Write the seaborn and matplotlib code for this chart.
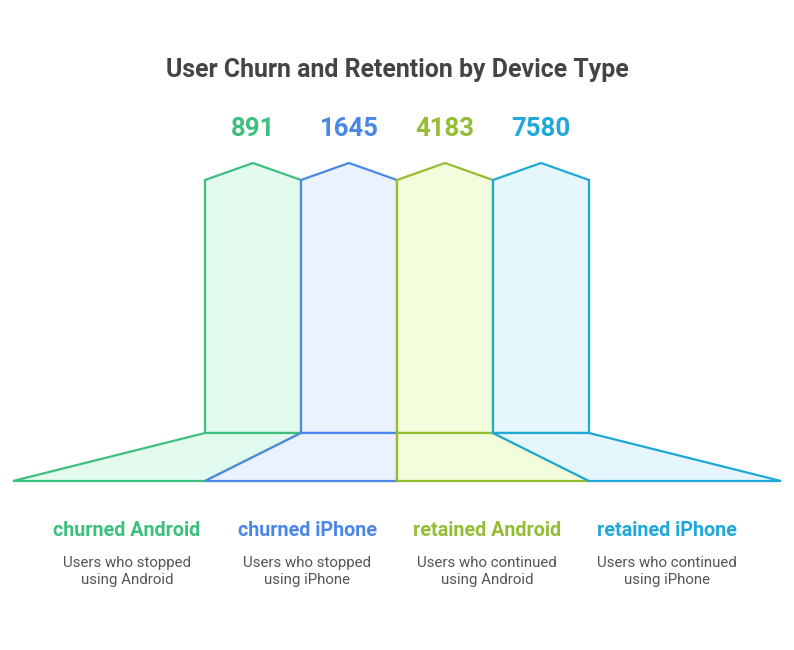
import numpy as np
import seaborn as sns
import matplotlib.pyplot as plt
from matplotlib.patches import Polygon

# data
groups = ['churned Android', 'churned iPhone', 'retained Android', 'retained iPhone']
counts = [891, 1645, 4183, 7580]
descriptions = ['Users who stopped\nusing Android', 'Users who stopped\nusing iPhone',
                'Users who continued\nusing Android', 'Users who continued\nusing iPhone']
line_colors = ['#3DBF7E', '#4A87E6', '#94BD35', '#20A8D8']
fill_colors = ['#E3FBEE', '#EBF2FE', '#F2FDDB', '#E5F6FD']

sns.set_theme(style='white')
plt.rcParams['font.family'] = ['Roboto', 'DejaVu Sans']

fig = plt.figure(figsize=(7.94, 6.5), dpi=100)
ax = fig.add_axes([0, 0, 1, 1])
ax.set_xlim(0, 794)
ax.set_ylim(650, 0)
ax.axis('off')

# layout (pixels)
col_w = 96
col_left = 205
base_w = 192
base_left = 13
peak_y, shoulder_y, col_bottom, base_bottom = 163, 180, 433, 481

n = len(groups)
for i in range(n):
    x0 = col_left + i * col_w
    x1 = x0 + col_w
    b0 = base_left + i * base_w
    b1 = b0 + base_w
    lc, fc = line_colors[i], fill_colors[i]

    # column with pointed top
    col = [(x0, col_bottom), (x0, shoulder_y), ((x0 + x1) / 2, peak_y),
           (x1, shoulder_y), (x1, col_bottom)]
    ax.add_patch(Polygon(col, closed=True, facecolor=fc, edgecolor=lc, lw=1.6, joinstyle='miter'))

    # base wedge
    base = [(x0, col_bottom), (x1, col_bottom), (b1, base_bottom), (b0, base_bottom)]
    ax.add_patch(Polygon(base, closed=True, facecolor=fc, edgecolor=lc, lw=1.6, joinstyle='miter'))

    ax.text((x0 + x1) / 2, 129, f'{counts[i]}', ha='center', va='center',
            fontsize=18.5, fontweight='bold', color=lc)

    cx = 127 + i * 180
    ax.text(cx, 531, groups[i], ha='center', va='center',
            fontsize=14.2, fontweight='bold', color=lc)
    ax.text(cx, 571.5, descriptions[i], ha='center', va='center',
            fontsize=10.8, color='#555555', linespacing=1.3)

ax.text(397, 70, 'User Churn and Retention by Device Type', ha='center', va='center',
        fontsize=17.9, fontweight='bold', color='#444444')

fig.savefig('out.png', dpi=100, facecolor='white')
